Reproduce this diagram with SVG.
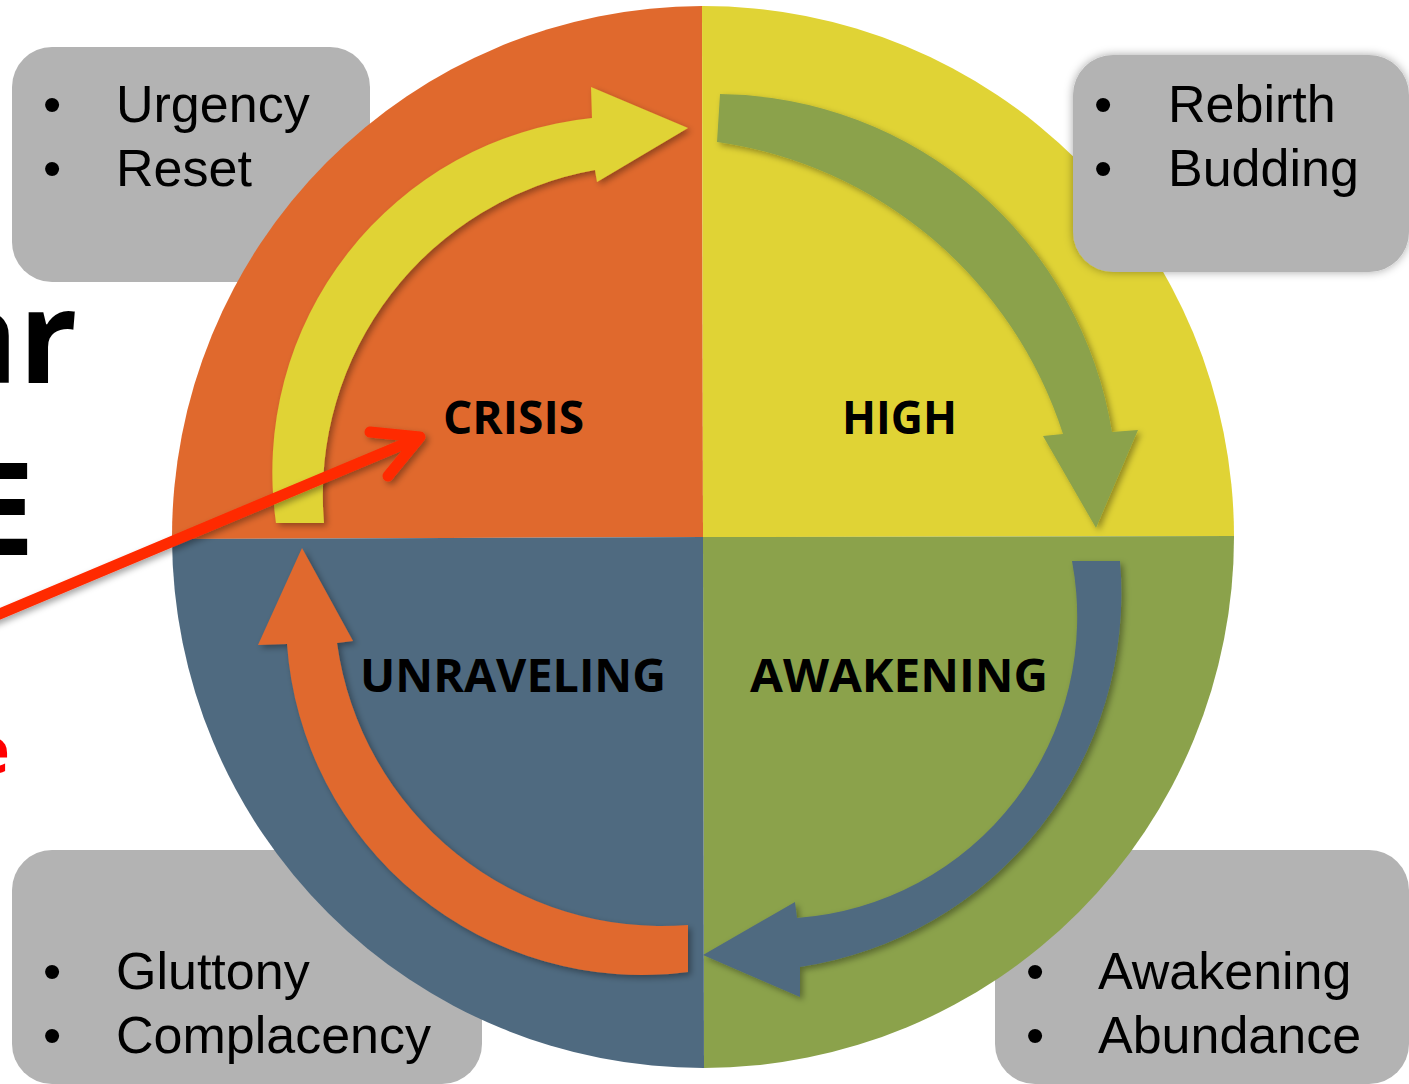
<svg xmlns="http://www.w3.org/2000/svg" width="1409" height="1084" viewBox="0 0 1409 1084">
<style>
.box{fill:#B3B3B3}
.bt{font-family:"Liberation Sans",Arial,sans-serif;font-size:52px;fill:#000}
.lbl{font-family:"Open Sans","Liberation Sans",sans-serif;font-weight:bold;font-size:46px;fill:#000}
.frag{font-family:"Open Sans","Liberation Sans",sans-serif;font-weight:bold;font-size:130px;fill:#000}
</style>
<defs>
<filter id="sh" x="-10%" y="-10%" width="130%" height="130%">
<feDropShadow dx="3" dy="3" stdDeviation="3" flood-color="#000" flood-opacity="0.35"/>
</filter>
<filter id="bsh" x="-10%" y="-10%" width="120%" height="120%">
<feDropShadow dx="0" dy="0" stdDeviation="5" flood-color="#000" flood-opacity="0.35"/>
</filter>
</defs>
<rect width="1409" height="1084" fill="#fff"/>

<g id="fragments">
<text class="frag" x="-60" y="383">ar</text>
<text class="frag" x="-38" y="555">E</text>
<text x="-28" y="773" font-family="Open Sans, Liberation Sans, sans-serif" font-weight="bold" font-size="64" fill="#FF0000">e</text>
</g>

<g id="box-crisis">
<rect class="box" x="12" y="47" width="358" height="235" rx="40"/>
<text class="bt" x="43" y="122">•</text>
<text class="bt" x="116" y="122">Urgency</text>
<text class="bt" x="43" y="186">•</text>
<text class="bt" x="116" y="186">Reset</text>
</g>
<g id="box-unraveling">
<rect class="box" x="12" y="850" width="470" height="234" rx="40"/>
<text class="bt" x="43" y="989">•</text>
<text class="bt" x="116" y="989">Gluttony</text>
<text class="bt" x="43" y="1053">•</text>
<text class="bt" x="116" y="1053">Complacency</text>
</g>
<g id="box-awakening">
<rect class="box" x="995" y="850" width="414" height="234" rx="40"/>
<text class="bt" x="1026" y="989">•</text>
<text class="bt" x="1098" y="989">Awakening</text>
<text class="bt" x="1026" y="1053">•</text>
<text class="bt" x="1098" y="1053">Abundance</text>
</g>

<g id="cycle">
<path id="q-crisis" d="M703,537 L172,539 A531,531 0 0 1 702,6 Z" fill="#E0692D"/>
<path id="q-high" d="M703,537 L702,6 A531,531 0 0 1 1234,536 Z" fill="#E0D335"/>
<path id="q-awakening" d="M703,537 L1234,536 A531,531 0 0 1 704,1068 Z" fill="#8BA24B"/>
<path id="q-unraveling" d="M703,537 L704,1068 A531,531 0 0 1 172,539 Z" fill="#4F6A80"/>
</g>

<g id="box-high" filter="url(#bsh)">
<rect class="box" x="1073" y="55" width="336" height="217" rx="40"/>
</g>
<g id="box-high-text">
<text class="bt" x="1094" y="122">•</text>
<text class="bt" x="1168" y="122">Rebirth</text>
<text class="bt" x="1094" y="186">•</text>
<text class="bt" x="1168" y="186">Budding</text>
</g>

<g id="connectors" filter="url(#sh)">
<path id="arrow-yellow" d="M276,523 A356,356 0 0 1 592,118 L591,87 L688,128 L597,182 L595,170 A330,330 0 0 0 324,523 Z" fill="#E0D335"/>
<path id="arrow-green" d="M720,94 A402,402 0 0 1 1112,432 L1138,430 L1096,528 L1043,436 L1063,434 A427,427 0 0 0 717,142 Z" fill="#8BA24B"/>
<path id="arrow-blue" d="M1072,561 L1120,561 A378,378 0 0 1 800,967 L800,997 L703,955 L795,902 L797,918 A302,302 0 0 0 1072,561 Z" fill="#4F6A80"/>
<path id="arrow-orange" d="M688,925 L688,972 A356,356 0 0 1 287,644 L258,645 L302,548 L353,641 L337,643 A328,328 0 0 0 688,925 Z" fill="#E0692D"/>
</g>

<g id="label-crisis"><text class="lbl" x="443" y="434" textLength="141" lengthAdjust="spacingAndGlyphs">CRISIS</text></g>
<g id="label-high"><text class="lbl" x="842" y="434" textLength="115" lengthAdjust="spacingAndGlyphs">HIGH</text></g>
<g id="label-unraveling"><text class="lbl" x="360" y="692" textLength="306" lengthAdjust="spacingAndGlyphs">UNRAVELING</text></g>
<g id="label-awakening"><text class="lbl" x="750" y="692" textLength="298" lengthAdjust="spacingAndGlyphs">AWAKENING</text></g>

<g id="pointer" filter="url(#sh)" fill="none" stroke="#FF2A00" stroke-width="11" stroke-linecap="round" stroke-linejoin="round">
<path d="M-10,618 L416,439"/>
<path d="M370,432 L420,437 L388,476"/>
</g>
</svg>
